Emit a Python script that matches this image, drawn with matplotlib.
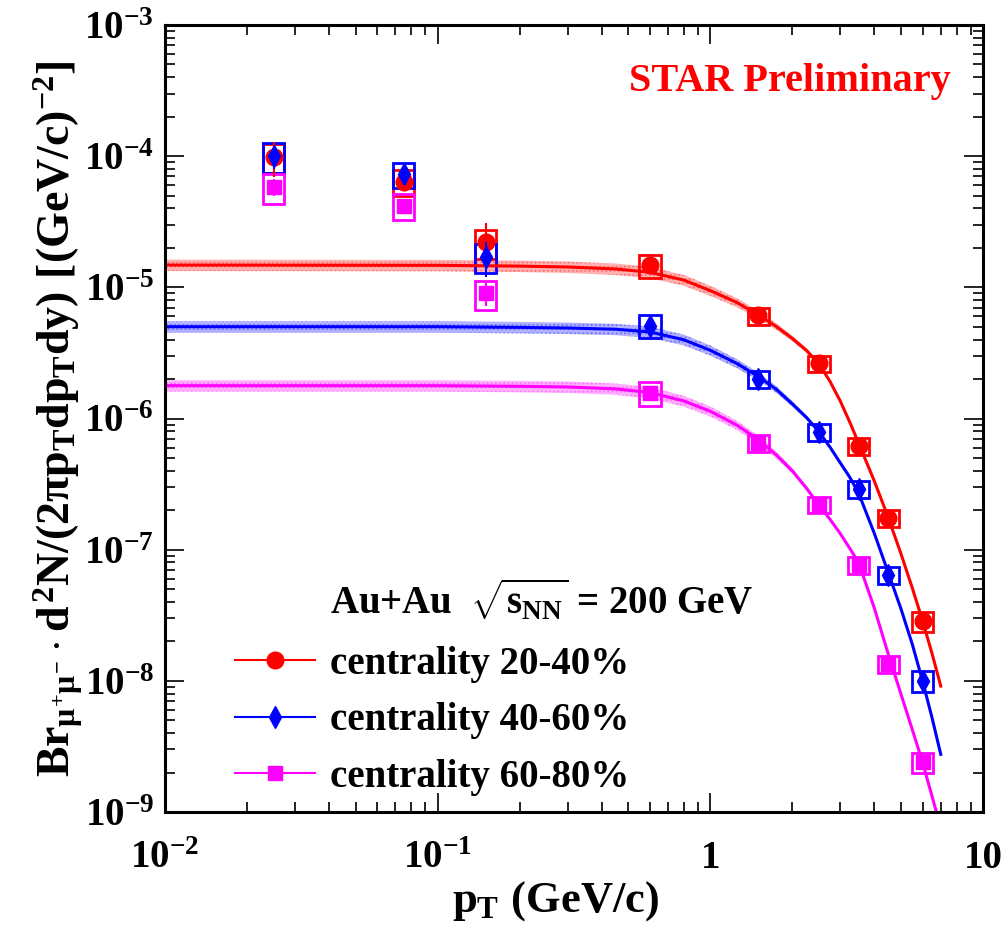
import numpy as np
import matplotlib.pyplot as plt
from matplotlib.patches import Rectangle
from matplotlib.lines import Line2D

plt.rcParams['font.family'] = ['Liberation Serif', 'DejaVu Serif']
plt.rcParams['font.weight'] = 'bold'
plt.rcParams['mathtext.fontset'] = 'custom'
plt.rcParams['mathtext.rm'] = 'Liberation Serif:bold'
plt.rcParams['mathtext.it'] = 'Liberation Serif:bold'
plt.rcParams['mathtext.bf'] = 'Liberation Serif:bold'

# data points (pT in GeV/c)
pt = [0.025, 0.075, 0.15, 0.6, 1.5, 2.5, 3.5, 4.5, 6.0]
y_2040 = [9.9e-5, 6.4e-5, 2.2e-5, 1.48e-5, 6.1e-6, 2.65e-6, 6.2e-7, 1.75e-7, 2.85e-8]
y_4060 = [1.0e-4, 7.3e-5, 1.7e-5, 5.1e-6, 2.0e-6, 7.9e-7, 2.9e-7, 6.4e-8, 1.0e-8]
y_6080 = [5.8e-5, 4.2e-5, 9.0e-6, 1.57e-6, 6.5e-7, 2.2e-7, 7.7e-8, 1.35e-8, 2.4e-9]
# relative stat errors
stat_2040 = [0.30, 0.15, 0.40, 0.05, 0.05, 0.05, 0.06, 0.08, 0.12]
stat_4060 = [0.20, 0.12, 0.30, 0.06, 0.05, 0.05, 0.06, 0.08, 0.12]
stat_6080 = [0.15, 0.10, 0.20, 0.05, 0.05, 0.05, 0.06, 0.08, 0.12]
# relative sys errors (boxes)
sys_2040 = [0.25, 0.22, 0.25, 0.20, 0.15, 0.14, 0.15, 0.15, 0.18]
sys_4060 = [0.25, 0.22, 0.25, 0.20, 0.15, 0.14, 0.15, 0.15, 0.18]
sys_6080 = [0.25, 0.22, 0.25, 0.20, 0.15, 0.14, 0.15, 0.15, 0.18]

# fit curves
fit_pt = [0.01, 0.1, 0.2, 0.3, 0.45, 0.6, 0.8, 1.0, 1.25, 1.5, 1.75, 2.0, 2.25, 2.5,
          2.75, 3.0, 3.25, 3.5, 4.0, 4.5, 5.0, 5.5, 6.0, 6.5, 7.0]
fit_2040 = [1.479e-5, 1.472e-5, 1.452e-5, 1.429e-5, 1.380e-5, 1.303e-5, 1.135e-5, 9.44e-6,
            7.67e-6, 6.17e-6, 5.01e-6, 4.07e-6, 3.31e-6, 2.63e-6, 1.91e-6, 1.35e-6,
            9.33e-7, 6.46e-7, 3.31e-7, 1.74e-7, 9.33e-8, 5.13e-8, 2.88e-8, 1.62e-8, 9.12e-9]
fit_4060 = [5.01e-6, 5.01e-6, 4.95e-6, 4.90e-6, 4.79e-6, 4.57e-6, 3.98e-6, 3.31e-6,
            2.63e-6, 2.09e-6, 1.66e-6, 1.29e-6, 1.02e-6, 7.94e-7, 6.03e-7, 4.57e-7,
            3.55e-7, 2.69e-7, 1.32e-7, 6.61e-8, 3.55e-8, 1.91e-8, 1.0e-8, 5.25e-9, 2.75e-9]
fit_6080 = [1.78e-6, 1.78e-6, 1.76e-6, 1.74e-6, 1.68e-6, 1.58e-6, 1.36e-6, 1.135e-6,
            8.91e-7, 6.92e-7, 5.25e-7, 3.98e-7, 2.95e-7, 2.19e-7, 1.70e-7, 1.32e-7,
            1.02e-7, 7.94e-8, 3.55e-8, 1.58e-8, 7.94e-9, 4.27e-9, 2.40e-9, 1.32e-9, 7.59e-10]
band_frac = [0.10, 0.10, 0.10, 0.10, 0.10, 0.10, 0.095, 0.09, 0.08, 0.07, 0.06, 0.05, 0.04,
             0.03, 0.025, 0.02, 0.02, 0.02, 0.02, 0.02, 0.02, 0.02, 0.02, 0.02, 0.02]

labels = ['centrality 20-40%', 'centrality 40-60%', 'centrality 60-80%']
colors = ['#ff0000', '#0000ff', '#ff00ff']
markers = ['o', 'd', 's']
msizes = [12, 11, 10]

fig = plt.figure(figsize=(10.07, 9.33), dpi=100)
ax = fig.add_axes([165 / 1007, 1 - 812 / 933, 818 / 1007, 787 / 933])
ax.set_xscale('log')
ax.set_yscale('log')
ax.set_xlim(0.01, 10)
ax.set_ylim(1e-9, 1e-3)

series = [(y_2040, stat_2040, sys_2040, fit_2040),
          (y_4060, stat_4060, sys_4060, fit_4060),
          (y_6080, stat_6080, sys_6080, fit_6080)]

handles = []
for (yv, st, sy, fit), c, m, ms in zip(series, colors, markers, msizes):
    yv = np.array(yv)
    fit = np.array(fit)
    bf = np.array(band_frac)
    ax.fill_between(fit_pt, fit * (1 - bf), fit * (1 + bf), facecolor=c, alpha=0.3,
                    linewidth=0, hatch='....', edgecolor=c)
    ax.plot(fit_pt, fit, color=c, lw=2.2)
    for x, y, s in zip(pt, yv, sy):
        ax.add_patch(Rectangle((x / 1.095, y * (1 - s)), x * 1.095 - x / 1.095, 2 * s * y,
                               fill=False, edgecolor=c, lw=2))
    ax.errorbar(pt, yv, yerr=yv * np.array(st), fmt='none', ecolor=c, elinewidth=1.5)
    ax.plot(pt, yv, ls='none', marker=m, color=c, ms=ms, mec=c)
    handles.append(Line2D([], [], color=c, lw=1.5, marker=m, ms=ms))

for sp in ax.spines.values():
    sp.set_linewidth(2.2)
ax.tick_params(which='both', direction='in', top=True, right=True, width=1.2)
ax.tick_params(which='major', length=14, pad=8, labelsize=28)
ax.tick_params(which='minor', length=7)
ax.tick_params(axis='x', which='major', pad=20)
ax.set_yticks([1e-9, 1e-8, 1e-7, 1e-6, 1e-5, 1e-4, 1e-3])
ax.set_yticklabels([r'$10^{-%d}$' % k for k in [9, 8, 7, 6, 5, 4, 3]])
ax.set_xticks([0.01, 0.1, 1, 10])
ax.set_xticklabels([r'$10^{-2}$', r'$10^{-1}$', '1', '10'])

ax.set_xlabel(r'$p_{T}\ (GeV/c)$', fontsize=32, labelpad=0)
ax.xaxis.set_label_coords(0.478, -0.085)
ax.set_ylabel(r'$Br_{\mu^{+}\mu^{-}}\cdot d^{2}N/(2\pi p_{T}dp_{T}dy)\ [(GeV/c)^{-2}]$',
              fontsize=33)
ax.yaxis.set_label_coords(-0.098, 0.5)

ax.text(0.764, 0.928, 'STAR Preliminary', color='#ff0000', fontsize=29,
        fontweight='bold', ha='center', va='center', transform=ax.transAxes)
ax.text(0.2017, 0.269, r'Au+Au  $\sqrt{s_{NN}}$ = 200 GeV', fontsize=28,
        fontweight='bold', ha='left', va='center', transform=ax.transAxes)
ax.legend(handles, labels, loc='upper left', bbox_to_anchor=(0.0856, 0.211),
          frameon=False, fontsize=28, handlelength=2.05, handletextpad=0.4,
          labelspacing=0.5, borderpad=0, borderaxespad=0)

fig.savefig('out.png', dpi=100)
